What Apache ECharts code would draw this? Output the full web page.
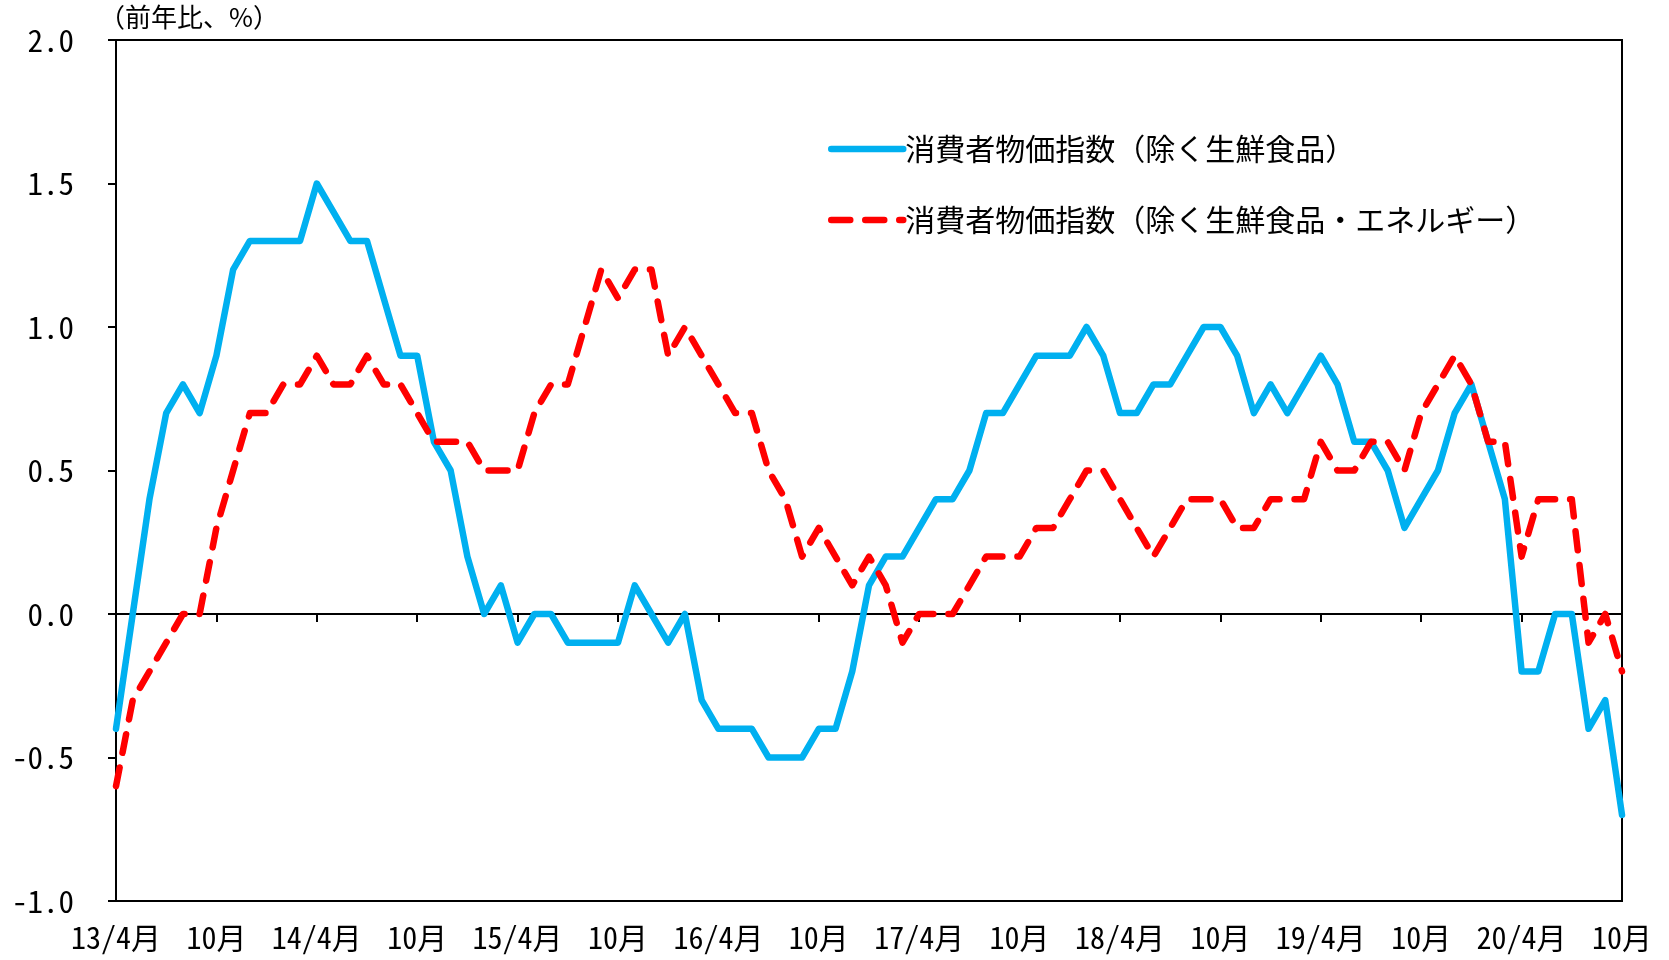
<!DOCTYPE html>
<html>
<head>
<meta charset="utf-8">
<script src="https://cdn.jsdelivr.net/npm/echarts@6/dist/echarts.min.js"></script>
<style>
html,body{margin:0;padding:0;background:#fff;}
#chart{width:1669px;height:960px;}
</style>
</head>
<body>
<div id="chart"></div>
<script>
// Month categories (only April carries the year prefix; ticks/labels every 6 months)
const categories = [
  "13/4月","5月","6月","7月","8月","9月","10月","11月","12月",
  "1月","2月","3月","14/4月","5月","6月","7月","8月","9月","10月","11月","12月",
  "1月","2月","3月","15/4月","5月","6月","7月","8月","9月","10月","11月","12月",
  "1月","2月","3月","16/4月","5月","6月","7月","8月","9月","10月","11月","12月",
  "1月","2月","3月","17/4月","5月","6月","7月","8月","9月","10月","11月","12月",
  "1月","2月","3月","18/4月","5月","6月","7月","8月","9月","10月","11月","12月",
  "1月","2月","3月","19/4月","5月","6月","7月","8月","9月","10月","11月","12月",
  "1月","2月","3月","20/4月","5月","6月","7月","8月","9月","10月"
];

// 消費者物価指数（除く生鮮食品） y/y %, by calendar year
const core2013 = [-0.4, 0.0, 0.4, 0.7, 0.8, 0.7, 0.9, 1.2, 1.3];
const core2014 = [1.3, 1.3, 1.3, 1.5, 1.4, 1.3, 1.3, 1.1, 0.9, 0.9, 0.6, 0.5];
const core2015 = [0.2, 0.0, 0.1, -0.1, 0.0, 0.0, -0.1, -0.1, -0.1, -0.1, 0.1, 0.0];
const core2016 = [-0.1, 0.0, -0.3, -0.4, -0.4, -0.4, -0.5, -0.5, -0.5, -0.4, -0.4, -0.2];
const core2017 = [0.1, 0.2, 0.2, 0.3, 0.4, 0.4, 0.5, 0.7, 0.7, 0.8, 0.9, 0.9];
const core2018 = [0.9, 1.0, 0.9, 0.7, 0.7, 0.8, 0.8, 0.9, 1.0, 1.0, 0.9, 0.7];
const core2019 = [0.8, 0.7, 0.8, 0.9, 0.8, 0.6, 0.6, 0.5, 0.3, 0.4, 0.5, 0.7];
const core2020 = [0.8, 0.6, 0.4, -0.2, -0.2, 0.0, 0.0, -0.4, -0.3, -0.7];

// 消費者物価指数（除く生鮮食品・エネルギー） y/y %, by calendar year
const cc2013 = [-0.6, -0.3, -0.2, -0.1, 0.0, 0.0, 0.3, 0.5, 0.7];
const cc2014 = [0.7, 0.8, 0.8, 0.9, 0.8, 0.8, 0.9, 0.8, 0.8, 0.7, 0.6, 0.6];
const cc2015 = [0.6, 0.5, 0.5, 0.5, 0.7, 0.8, 0.8, 1.0, 1.2, 1.1, 1.2, 1.2];
const cc2016 = [0.9, 1.0, 0.9, 0.8, 0.7, 0.7, 0.5, 0.4, 0.2, 0.3, 0.2, 0.1];
const cc2017 = [0.2, 0.1, -0.1, 0.0, 0.0, 0.0, 0.1, 0.2, 0.2, 0.2, 0.3, 0.3];
const cc2018 = [0.4, 0.5, 0.5, 0.4, 0.3, 0.2, 0.3, 0.4, 0.4, 0.4, 0.3, 0.3];
const cc2019 = [0.4, 0.4, 0.4, 0.6, 0.5, 0.5, 0.6, 0.6, 0.5, 0.7, 0.8, 0.9];
const cc2020 = [0.8, 0.6, 0.6, 0.2, 0.4, 0.4, 0.4, -0.1, 0.0, -0.2];

const seriesNames = ["消費者物価指数（除く生鮮食品）", "消費者物価指数（除く生鮮食品・エネルギー）"];
const yTicks = { min: -1.0, max: 2.0, step: 0.5 };
const unitLabel = "（前年比、%）";

const coreValues = [].concat(core2013, core2014, core2015, core2016, core2017, core2018, core2019, core2020);
const ccValues = [].concat(cc2013, cc2014, cc2015, cc2016, cc2017, cc2018, cc2019, cc2020);

const labelFont = '"Noto Sans Mono CJK JP", "Noto Sans CJK JP", monospace';
const textFont = '"Noto Sans CJK JP", sans-serif';

const chart = echarts.init(document.getElementById('chart'), null, { renderer: 'canvas' });
chart.setOption({
  animation: false,
  backgroundColor: '#ffffff',
  title: {
    text: unitLabel,
    left: 99, top: 4, padding: 0,
    textStyle: { fontFamily: textFont, fontSize: 26, fontWeight: 'normal', color: '#000' }
  },
  legend: {
    data: seriesNames,
    orient: 'vertical',
    left: 828, top: 134, padding: 0,
    itemWidth: 72, itemHeight: 14, itemGap: 41,
    textStyle: { fontFamily: textFont, fontSize: 30, color: '#000', padding: [0, 0, 0, -3] },
    itemStyle: { opacity: 0 },
    lineStyle: { width: 6.5 }
  },
  grid: {
    left: 116, right: 47, top: 40, bottom: 59,
    show: true, borderColor: '#000', borderWidth: 2, backgroundColor: 'transparent'
  },
  xAxis: [
    {
      type: 'category', data: categories, boundaryGap: false, position: 'bottom',
      axisLine: { onZero: true, lineStyle: { color: '#000', width: 2 } },
      axisTick: { show: true, interval: 5, length: 8, lineStyle: { color: '#000', width: 2 } },
      axisLabel: { show: false },
      splitLine: { show: false }
    },
    {
      type: 'category', data: categories, boundaryGap: false, position: 'bottom',
      axisLine: { show: false, onZero: false },
      axisTick: { show: false },
      axisLabel: { show: true, interval: 5, margin: 22, fontFamily: labelFont, fontSize: 30, color: '#000' },
      splitLine: { show: false }
    }
  ],
  yAxis: {
    type: 'value', min: yTicks.min, max: yTicks.max, interval: yTicks.step,
    axisLine: { show: true, onZero: false, lineStyle: { color: '#000', width: 2 } },
    axisTick: { show: true, inside: false, length: 8, lineStyle: { color: '#000', width: 2 } },
    axisLabel: { margin: 42, fontFamily: labelFont, fontSize: 31, color: '#000',
      formatter: v => v.toFixed(1) },
    splitLine: { show: false }
  },
  series: [
    {
      name: seriesNames[0], type: 'line', data: coreValues, xAxisIndex: 0,
      symbol: 'none', color: '#00B0F0',
      lineStyle: { color: '#00B0F0', width: 6.5, join: 'round', cap: 'round' },
      z: 3
    },
    {
      name: seriesNames[1], type: 'line', data: ccValues, xAxisIndex: 0,
      symbol: 'none', color: '#FF0000',
      lineStyle: { color: '#FF0000', width: 6.5, type: [19, 15], join: 'round', cap: 'round' },
      z: 4
    }
  ]
});
</script>
</body>
</html>
